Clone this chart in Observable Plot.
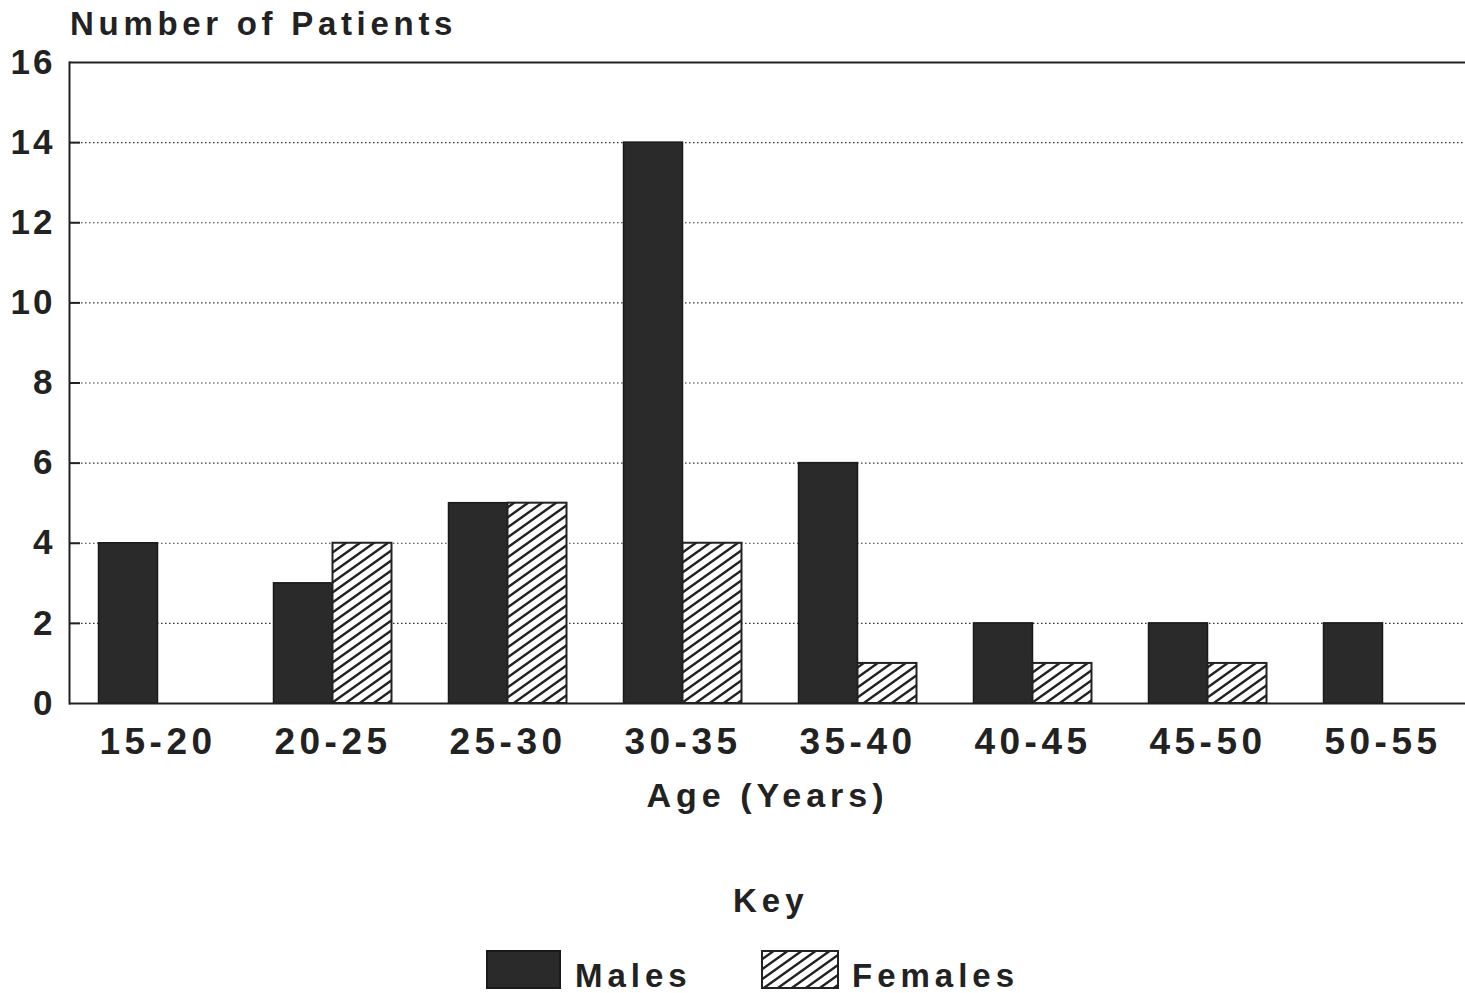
<!DOCTYPE html>
<html>
<head>
<meta charset="utf-8">
<script src="https://cdn.jsdelivr.net/npm/d3@7"></script>
<script src="https://cdn.jsdelivr.net/npm/@observablehq/plot@0.6"></script>
<style>
  html, body { margin: 0; padding: 0; background: #fff; }
  body { position: relative; width: 1465px; height: 993px; overflow: hidden; font-family: "Liberation Sans", Arial, sans-serif; color: #222; }
  #title { position: absolute; left: 70px; top: 0; height: 48px; line-height: 48px; font-weight: bold; font-size: 33px; letter-spacing: 4.7px; white-space: nowrap; z-index: 2; }
  #chart svg { display: block; }
  g[aria-label="y-axis tick label"] text { letter-spacing: 3px; }
  g[aria-label="x-axis tick label"] text { letter-spacing: 4.5px; }
  g[aria-label="x-axis label"] text { letter-spacing: 5px; }
  .lg { position: absolute; font-weight: bold; font-size: 33px; letter-spacing: 5px; line-height: 40px; white-space: nowrap; }
  .sw { position: absolute; }
</style>
</head>
<body>
<div id="chart"></div>
<div id="title">Number of Patients</div>
<div class="lg" style="left:733px; top:881px;">Key</div>
<svg class="sw" style="left:486px; top:950px;" width="76" height="40"><rect x="1" y="1" width="73" height="37" fill="#2a2a2a" stroke="#1a1a1a" stroke-width="2"></rect></svg>
<div class="lg" style="left:575px; top:956px;">Males</div>
<svg class="sw" style="left:761px; top:950px;" width="80" height="40">
  <defs>
    <pattern id="hatchKey" patternUnits="userSpaceOnUse" width="14" height="10">
      <path d="M-14,10 L14,-10 M0,10 L14,0 M0,20 L28,0" stroke="#222" stroke-width="2.4" fill="none"></path>
    </pattern>
  </defs>
  <rect x="1" y="1" width="76" height="37" fill="url(#hatchKey)" stroke="#222" stroke-width="2"></rect>
</svg>
<div class="lg" style="left:852px; top:956px;">Females</div>
<script>
const ages = ["15-20", "20-25", "25-30", "30-35", "35-40", "40-45", "45-50", "50-55"];
const males = [4, 3, 5, 14, 6, 2, 2, 2];
const females = [0, 4, 5, 4, 1, 1, 1, 0];
const yTicks = [0, 2, 4, 6, 8, 10, 12, 14, 16];

const data = ages.map((age, i) => ({age, males: males[i], females: females[i]}));
const inner = yTicks.filter(t => t > 0 && t < 16);

const W = 1465;
const mL = 69;

const svg = Plot.plot({
  width: W,
  height: 828,
  marginTop: 62,
  marginBottom: 125,
  marginLeft: mL,
  marginRight: 0,
  style: {color: "#222", background: "transparent", fontFamily: "'Liberation Sans', Arial, sans-serif"},
  x: {domain: ages, range: [mL, 1470], padding: 0, label: null},
  y: {domain: [0, 16], label: null},
  marks: [
    Plot.gridY(inner, {stroke: "#333", strokeOpacity: 1, strokeWidth: 1.2, strokeDasharray: "1.5,2.5"}),
    Plot.tickY(inner, {stroke: "#222", strokeWidth: 2, insetRight: W - mL - 11}),
    Plot.barY(data, {x: "age", y: "males", fill: "#2a2a2a", stroke: "#1a1a1a", strokeWidth: 1.5, insetLeft: 28.5, insetRight: 87.5}),
    Plot.barY(data.filter(d => d.females > 0), {x: "age", y: "females", fill: "url(#hatch)", stroke: "#222", strokeWidth: 2, insetLeft: 87.5, insetRight: 28.5}),
    Plot.ruleY([yTicks[0], yTicks[yTicks.length - 1]], {stroke: "#222", strokeWidth: 2}),
    Plot.frame({anchor: "left", stroke: "#222", strokeWidth: 2}),
    Plot.axisY(yTicks, {tickSize: 0, tickPadding: 14, fontSize: 35, fontWeight: "bold", label: null}),
    Plot.axisX({tickSize: 0, tickPadding: 24, fontSize: 37, fontWeight: "bold", label: null}),
    Plot.axisX({ticks: [], tickSize: 0, label: "Age (Years)", labelAnchor: "center", labelOffset: 103, fontSize: 34, fontWeight: "bold"})
  ]
});

const defs = d3.select(svg).insert("defs", ":first-child");
const pat = defs.append("pattern")
  .attr("id", "hatch")
  .attr("patternUnits", "userSpaceOnUse")
  .attr("width", 14)
  .attr("height", 10);
pat.append("rect").attr("width", 14).attr("height", 10).attr("fill", "#fff");
pat.append("path")
  .attr("d", "M-14,10 L14,-10 M0,10 L14,0 M0,20 L28,0")
  .attr("stroke", "#222")
  .attr("stroke-width", 2.4)
  .attr("fill", "none");

document.getElementById("chart").appendChild(svg);
</script>
</body>
</html>
